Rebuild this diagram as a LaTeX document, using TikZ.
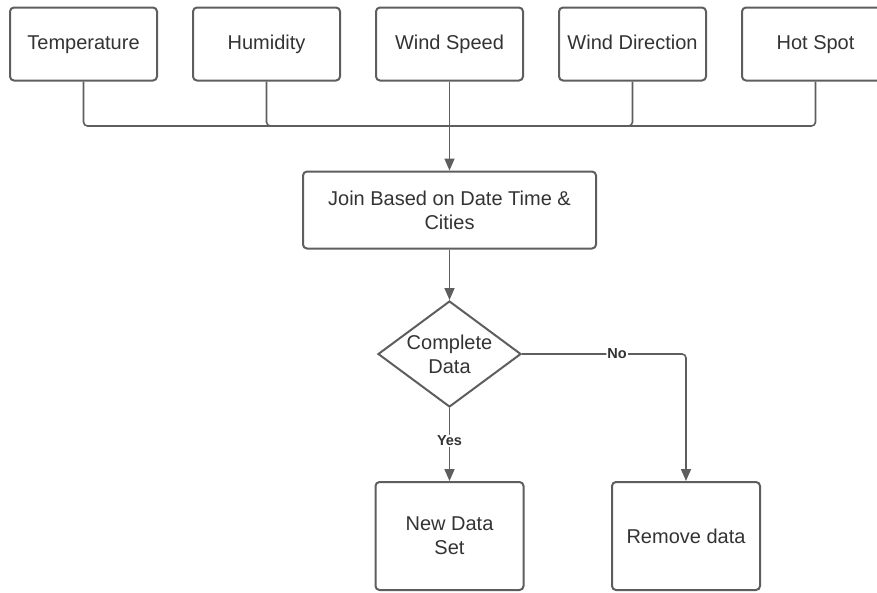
\documentclass[tikz,border=0pt]{standalone}
\usepackage{fontspec}
\setmainfont{Liberation Sans}
\usetikzlibrary{shapes.geometric,arrows.meta}
\definecolor{linegray}{HTML}{5E5E5E}
\definecolor{textgray}{HTML}{333333}
\begin{document}
\begin{tikzpicture}[x=1pt,y=-1pt,
    box/.style={draw=linegray,line width=2pt,rounded corners=4pt,text=textgray,
      minimum width=147pt,minimum height=73pt,inner sep=2pt,align=center,
      font=\fontsize{20}{24}\selectfont},
    topbox/.style={box,text height=14pt,text depth=4pt},
    decision/.style={draw=linegray,line width=2pt,diamond,aspect=1.35,text=textgray,
      minimum width=143pt,minimum height=106pt,inner sep=-6pt,align=center,
      font=\fontsize{20}{24}\selectfont},
    link/.style={draw=linegray,line width=1.6pt,rounded corners=4pt},
    arrow/.style={link,-{Triangle[length=12pt,width=10pt]}},
    lbl/.style={fill=white,inner sep=1pt,text=textgray,font=\fontsize{14.5}{16}\bfseries}]
  \useasboundingbox (0,0) rectangle (877,592);
  \node[topbox] (temp) at (83.5,44) {Temperature};
  \node[topbox] (hum) at (266.5,44) {Humidity};
  \node[topbox] (speed) at (449.5,44) {Wind Speed};
  \node[topbox] (dir) at (632.5,44) {Wind Direction};
  \node[topbox] (hot) at (815.5,44) {Hot Spot};
  \coordinate (bus) at (449.5,126);
  \node[box,minimum width=293pt,minimum height=77pt] (join) at (449.5,210) {Join Based on Date Time \&\\Cities};
  \node[decision] (check) at (449.5,354) {Complete\\Data};
  \node[box,minimum width=148pt,minimum height=108pt] (newset) at (449.5,536) {New Data\\Set};
  \node[box,minimum width=148pt,minimum height=108pt] (remove) at (686,536) {Remove data};
  \draw[link] (temp.south) |- (bus) -| (hot.south);
  \draw[link] (hum.south) |- (bus);
  \draw[link] (dir.south) |- (bus);
  \draw[arrow] (speed.south) -- (join.north);
  \draw[arrow] (join.south) -- (check.north);
  \draw[arrow] (check.south) -- node[lbl,pos=0.45] {Yes} (newset.north);
  \draw[arrow] (check.east) -- node[lbl,pos=0.58] {No} (remove.north |- check.east) -- (remove.north);
\end{tikzpicture}
\end{document}
